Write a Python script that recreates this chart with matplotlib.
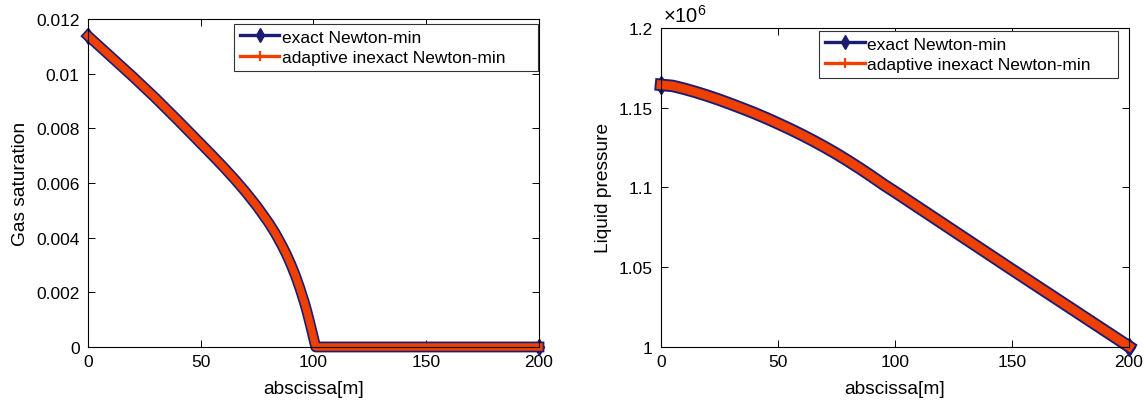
import numpy as np
import matplotlib
matplotlib.use("Agg")
from matplotlib import pyplot as plt
from matplotlib.lines import Line2D

plt.rcParams['font.family'] = ['Liberation Sans', 'DejaVu Sans']
plt.rcParams['font.size'] = 12.5
plt.rcParams['mathtext.fontset'] = 'custom'
plt.rcParams['mathtext.rm'] = 'Liberation Sans'

# gas saturation profile
x_sat = [0, 10, 20, 30, 40, 50, 55, 60, 65, 70, 75, 80, 83, 86, 88, 90, 92, 94, 96, 97, 98,
         99, 100, 101, 150, 200]
sat_exact = [0.01138, 0.01063, 0.00988, 0.00910, 0.00828, 0.00744, 0.00702, 0.00659, 0.00614,
             0.00566, 0.00514, 0.00456, 0.00417, 0.00372, 0.00339, 0.00302, 0.00261, 0.00214,
             0.00162, 0.00133, 0.00101, 0.00068, 0.00034, 0.0, 0.0, 0.0]
sat_inexact = sat_exact

# liquid pressure profile (right panel)
x_pres = [0, 5, 10, 15, 20, 25, 30, 35, 40, 45, 50, 55, 60, 65, 70, 75, 80, 85, 90, 95, 101,
          150, 200]
pres_exact = [1.1643e6, 1.1636e6, 1.1618e6, 1.1597e6, 1.1574e6, 1.1549e6, 1.1522e6, 1.1494e6,
              1.1465e6, 1.1434e6, 1.1401e6, 1.1367e6, 1.1331e6, 1.1293e6, 1.1253e6, 1.1211e6,
              1.1166e6, 1.1119e6, 1.1070e6, 1.1019e6, 1.0962e6, 1.0485e6, 1.0003e6]
pres_inexact = pres_exact

sat_ticks = [0, 0.002, 0.004, 0.006, 0.008, 0.01, 0.012]
sat_labels = ['0', '0.002', '0.004', '0.006', '0.008', '0.01', '0.012']
pres_ticks = [1.0e6, 1.05e6, 1.1e6, 1.15e6, 1.2e6]
pres_labels = ['1', '1.05', '1.1', '1.15', '1.2']
x_ticks = [0, 50, 100, 150, 200]
names = ['exact Newton-min', 'adaptive inexact Newton-min']

navy = '#1c1c72'
orange = '#f04000'

fig = plt.figure(figsize=(11.46, 4.06), dpi=100)
ax1 = fig.add_axes([0.0768, 0.1429, 0.3935, 0.808])
ax2 = fig.add_axes([0.5768, 0.1429, 0.4084, 0.786])


def style(ax):
    ax.tick_params(direction='in', top=True, right=True, length=5, width=0.7, labelsize=12.5)
    ax.tick_params(axis='y', pad=6)
    ax.tick_params(axis='x', pad=5)
    for s in ax.spines.values():
        s.set_linewidth(0.8)
    ax.set_xlim(0, 200)
    ax.set_xticks(x_ticks)
    ax.set_xticklabels([str(t) for t in x_ticks])
    ax.set_xlabel('abscissa[m]', fontsize=13.8, labelpad=8)


def legend(ax, box):
    handles = [Line2D([], [], color=navy, lw=2.4, marker='d', markersize=7.5, mfc=navy, mec=navy),
               Line2D([], [], color=orange, lw=2.4, marker='+', markersize=6.5, mew=1.6)]
    leg = ax.legend(handles, names, loc='upper left', bbox_to_anchor=box, mode='expand',
                    fancybox=False, framealpha=1, edgecolor='#333333', fontsize=12.5,
                    handlelength=2.3, handletextpad=0.12, borderpad=0.32, labelspacing=0.32,
                    borderaxespad=0)
    leg.get_frame().set_linewidth(0.8)


# left panel
ax1.plot(x_sat, sat_exact, color=navy, lw=7.8, solid_joinstyle='round',
         marker='d', markevery=[0, len(x_sat) - 1], markersize=8, mfc=navy, mec=navy)
ax1.plot(x_sat, sat_inexact, color=orange, lw=5.4, solid_joinstyle='round')
ax1.set_ylim(0, 0.012)
ax1.set_yticks(sat_ticks)
ax1.set_yticklabels(sat_labels)
ax1.set_ylabel('Gas saturation', fontsize=13.8, labelpad=5)
style(ax1)
legend(ax1, (0.3237, 0.5, 0.674, 0.485))

# right panel
ax2.plot(x_pres, pres_exact, color=navy, lw=9, solid_joinstyle='round',
         marker='d', markevery=[0, len(x_pres) - 1], markersize=9.5, mfc=navy, mec=navy)
ax2.plot(x_pres, pres_inexact, color=orange, lw=6.3, solid_joinstyle='round')
ax2.set_ylim(1.0e6, 1.2e6)
ax2.set_yticks(pres_ticks)
ax2.set_yticklabels(pres_labels)
ax2.set_ylabel('Liquid pressure', fontsize=13.8, labelpad=5)
ax2.text(0.005, 1.008, r'$\times10^{6}$', transform=ax2.transAxes, fontsize=14.5,
         ha='left', va='bottom')
style(ax2)
legend(ax2, (0.3376, 0.5, 0.639, 0.4906))

for ax in (ax1, ax2):
    for line in ax.lines:
        line.set_clip_on(False)

fig.savefig('out.png', dpi=100)
